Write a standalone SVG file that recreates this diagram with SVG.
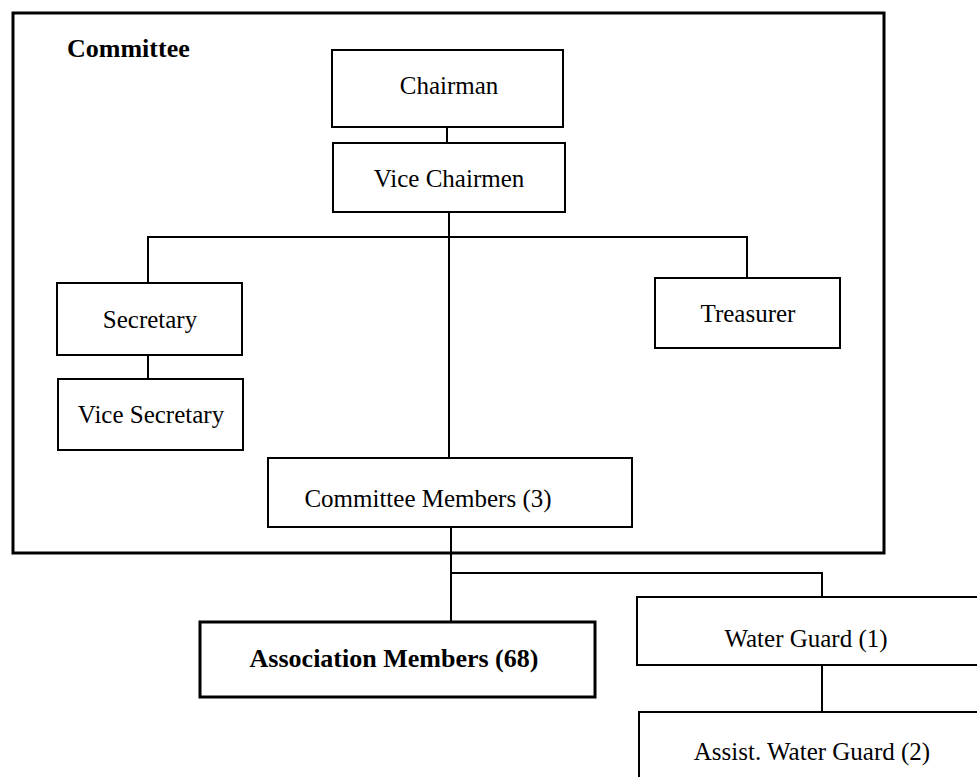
<svg xmlns="http://www.w3.org/2000/svg" width="977" height="777" viewBox="0 0 977 777">
  <style>
    .box { fill: #ffffff; stroke: #000000; stroke-width: 2; }
    .thick { stroke-width: 3; }
    .frame { fill: none; stroke: #000000; stroke-width: 3; }
    .wire { fill: none; stroke: #000000; stroke-width: 2; }
    text { font-family: "Liberation Serif", "Times New Roman", serif; font-size: 25px; fill: #000000; }
    .lbl { text-anchor: middle; }
    .bold { font-weight: bold; font-size: 26px; }
  </style>
  <rect width="977" height="777" fill="#ffffff"/>

  <!-- committee frame -->
  <g id="committee">
    <rect class="frame" x="13" y="13" width="871" height="540"/>
    <text class="bold" x="67" y="57">Committee</text>
  </g>

  <!-- connectors -->
  <g id="connectors">
    <line class="wire" x1="447" y1="127" x2="447" y2="143"/>
    <line class="wire" x1="449" y1="212" x2="449" y2="458"/>
    <polyline class="wire" points="148,283 148,237 747,237 747,278"/>
    <line class="wire" x1="148" y1="355" x2="148" y2="379"/>
    <line class="wire" x1="451" y1="527" x2="451" y2="622"/>
    <polyline class="wire" points="451,573 822,573 822,597"/>
    <line class="wire" x1="822" y1="665" x2="822" y2="712"/>
  </g>

  <g id="chairman">
    <rect class="box" x="332" y="50" width="231" height="77"/>
    <text class="lbl" x="449" y="94">Chairman</text>
  </g>
  <g id="vice-chairmen">
    <rect class="box" x="333" y="143" width="232" height="69"/>
    <text class="lbl" x="449" y="187">Vice Chairmen</text>
  </g>
  <g id="secretary">
    <rect class="box" x="57" y="283" width="185" height="72"/>
    <text class="lbl" x="150" y="328">Secretary</text>
  </g>
  <g id="vice-secretary">
    <rect class="box" x="58" y="379" width="185" height="71"/>
    <text class="lbl" x="151" y="423">Vice Secretary</text>
  </g>
  <g id="treasurer">
    <rect class="box" x="655" y="278" width="185" height="70"/>
    <text class="lbl" x="748" y="322">Treasurer</text>
  </g>
  <g id="committee-members">
    <rect class="box" x="268" y="458" width="364" height="69"/>
    <text class="lbl" x="428" y="507">Committee Members (3)</text>
  </g>
  <g id="association-members">
    <rect class="box thick" x="200" y="622" width="395" height="75"/>
    <text class="lbl bold" x="394" y="667">Association Members (68)</text>
  </g>
  <g id="water-guard">
    <rect class="box" x="637" y="597" width="345" height="68"/>
    <text class="lbl" x="806" y="647">Water Guard (1)</text>
  </g>
  <g id="assist-water-guard">
    <rect class="box" x="639" y="712" width="345" height="80"/>
    <text class="lbl" x="812" y="760">Assist. Water Guard (2)</text>
  </g>
</svg>
